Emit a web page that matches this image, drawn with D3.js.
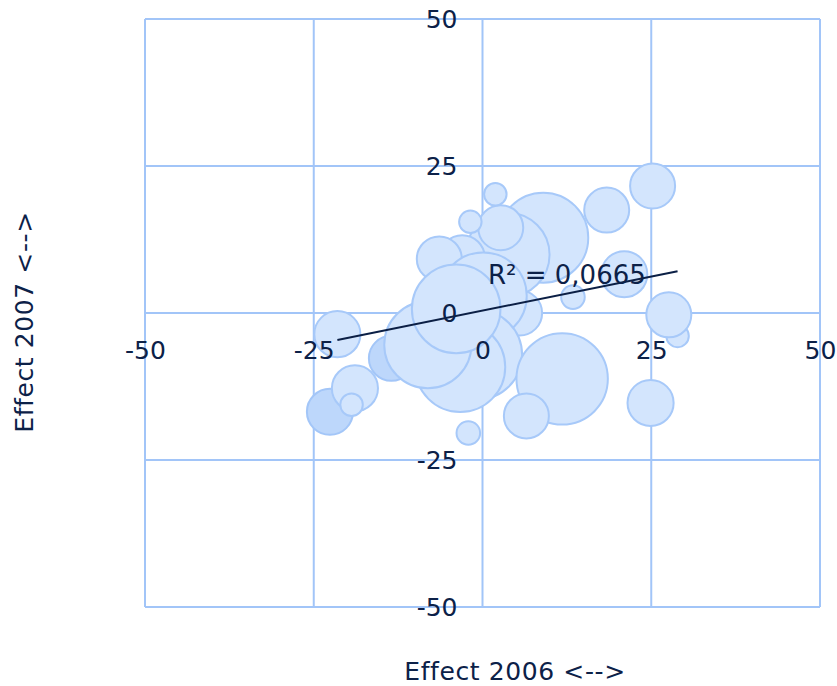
<!DOCTYPE html>
<html>
<head>
<meta charset="utf-8">
<script src="https://cdn.jsdelivr.net/npm/d3@7"></script>
<style>
  html, body { margin: 0; padding: 0; background: #ffffff; }
  svg { display: block; }
  text { font-family: "DejaVu Sans", Verdana, sans-serif; fill: #0c2148; }
</style>
</head>
<body>
<svg id="chart" width="837" height="686"></svg>
<script>
// ---- Data, listed in drawing order ----
const tickValues = [-50, -25, 0, 25, 50];
const tickLabels = ["-50", "-25", "0", "25", "50"];

// Main series: Effect 2006 (x), Effect 2007 (y), bubble size
const mainX = [9.0, 3.7, -3.0, -6.4, 2.7, 1.9, -1.8, 5.5, 0.1, -0.8, -3.3, -8.1, -3.9, 11.8, 6.5, 18.4, 25.2, 21.0, 13.4, 28.9, 27.6, 24.9, -2.1, -21.5, -18.9, -19.4];
const mainY = [12.8, 9.9, 9.4, 9.2, 14.5, 20.2, 15.5, 0.0, 2.9, -7.1, -9.2, -5.4, 0.7, -11.2, -17.5, 17.5, 21.6, 6.6, 2.7, -3.9, -0.3, -15.3, -20.4, -3.6, -12.8, -15.6];
const mainSize = [16, 14, 4, 4, 4, 1, 1, 4, 15, 16, 16, 15, 15.5, 16.5, 4, 4, 4, 4.2, 1.1, 1, 4, 4.2, 1.1, 4.2, 4.2, 1];

// Second (darker) series
const secondX = [-13.5, -22.6];
const secondY = [-7.7, -16.8];
const secondSize = [4, 4.2];

// Linear trendline of the main series (as shown)
const trendSlope = 0.232;
const trendIntercept = 0.40;
const trendLabel = "R² = 0,0665";

const xTitle = "Effect 2006 <-->";
const yTitle = "Effect 2007 <-->";

// ---- Layout ----
const svg = d3.select("#chart");
const pLeft = 145, pRight = 820, pTop = 19, pBottom = 607;

const x = d3.scaleLinear().domain([-50, 50]).range([pLeft, pRight]);
const y = d3.scaleLinear().domain([-50, 50]).range([pBottom, pTop]);
const r = d3.scaleSqrt().domain([0, 16]).range([0, 45]);

const gridColor = "#a2c5f8";

// Grid
const grid = svg.append("g");
grid.selectAll("line.v").data(tickValues).enter().append("line")
  .attr("class", "v")
  .attr("x1", d => x(d)).attr("x2", d => x(d))
  .attr("y1", pTop).attr("y2", pBottom)
  .attr("stroke", gridColor).attr("stroke-width", 2);
grid.selectAll("line.h").data(tickValues).enter().append("line")
  .attr("class", "h")
  .attr("x1", pLeft).attr("x2", pRight)
  .attr("y1", d => y(d)).attr("y2", d => y(d))
  .attr("stroke", gridColor).attr("stroke-width", 2);

// Bubbles
const second = secondX.map((v, i) => ({x: v, y: secondY[i], s: secondSize[i]}));
const main = mainX.map((v, i) => ({x: v, y: mainY[i], s: mainSize[i]}));

svg.append("g").selectAll("circle").data(second).enter().append("circle")
  .attr("cx", d => x(d.x)).attr("cy", d => y(d.y)).attr("r", d => r(d.s))
  .attr("fill", "#bdd7fb").attr("stroke", "#a3c6f8").attr("stroke-width", 2);

svg.append("g").selectAll("circle").data(main).enter().append("circle")
  .attr("cx", d => x(d.x)).attr("cy", d => y(d.y)).attr("r", d => r(d.s))
  .attr("fill", "#d3e5fd").attr("stroke", "#a7c9f9").attr("stroke-width", 2);

// Trendline
const ext = d3.extent(mainX);
svg.append("line")
  .attr("x1", x(ext[0])).attr("y1", y(trendIntercept + trendSlope * ext[0]))
  .attr("x2", x(ext[1])).attr("y2", y(trendIntercept + trendSlope * ext[1]))
  .attr("stroke", "#0b1f45").attr("stroke-width", 2);

svg.append("text")
  .attr("x", 488).attr("y", 284)
  .attr("font-size", 26)
  .text(trendLabel);

// Axes (crossing at 0)
const xAxis = d3.axisBottom(x).tickValues(tickValues)
  .tickFormat((d, i) => tickLabels[i]).tickSize(0).tickPadding(28);
const yAxis = d3.axisLeft(y).tickValues(tickValues)
  .tickFormat((d, i) => tickLabels[i]).tickSize(0).tickPadding(25);

const gx = svg.append("g").attr("transform", `translate(0,${y(0)})`).call(xAxis);
const gy = svg.append("g").attr("transform", `translate(${x(0)},0)`).call(yAxis);
[gx, gy].forEach(g => {
  g.select(".domain").remove();
  g.selectAll("text").attr("font-size", 25)
    .attr("font-family", '"DejaVu Sans", Verdana, sans-serif')
    .attr("fill", "#0c2148");
});

// Axis titles
svg.append("text")
  .attr("x", 515).attr("y", 680)
  .attr("text-anchor", "middle")
  .attr("font-size", 25)
  .attr("letter-spacing", 0.6)
  .text(xTitle);

svg.append("text")
  .attr("transform", "translate(33,322) rotate(-90)")
  .attr("text-anchor", "middle")
  .attr("font-size", 25)
  .attr("letter-spacing", 0.6)
  .text(yTitle);
</script>
</body>
</html>
